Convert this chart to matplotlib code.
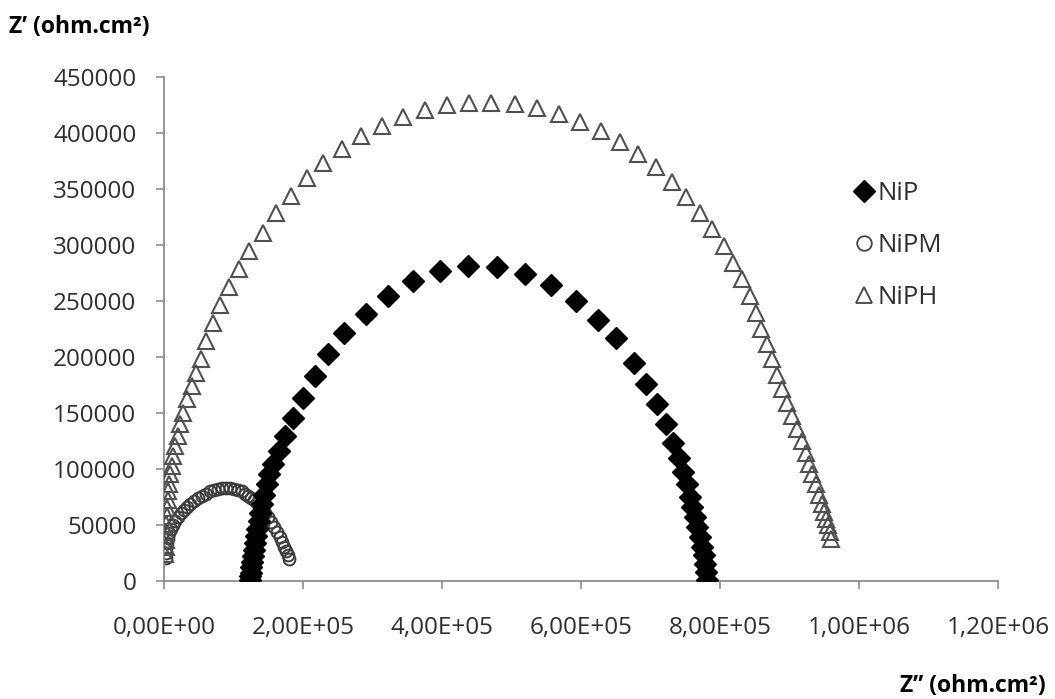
import matplotlib
matplotlib.use("Agg")
import matplotlib.pyplot as plt
from matplotlib.ticker import FuncFormatter, MultipleLocator
from matplotlib.lines import Line2D

plt.rcParams['font.family'] = ['Open Sans', 'DejaVu Sans']

# NiP (filled diamonds)
nip_x = [123300, 123300, 124700, 124700, 126200, 127600, 129000, 130500, 131900, 133300,
         136200, 137600, 140500, 143400, 147700, 150500, 156300, 164900, 173500, 184900,
         199300, 217900, 236600, 259500, 291000, 322600, 358400, 397100, 437300, 478900,
         519000, 556300, 592100, 623700, 650900, 676700, 693900, 709700, 722600, 732600,
         741200, 747000, 752700, 757000, 759900, 764200, 767000, 771300, 774200, 777100,
         778500, 779900, 781400]
nip_y = [900, 4500, 7200, 12500, 17000, 22400, 27800, 34100, 40300, 46600,
         53800, 61000, 69000, 77100, 86100, 95000, 104000, 115600, 129100, 145200,
         163100, 182900, 202600, 221400, 238400, 254600, 268000, 277000, 281500, 280600,
         274300, 264400, 250100, 233100, 216900, 194500, 175700, 157800, 139800, 122800,
         109400, 96800, 86100, 75300, 66300, 57400, 48400, 39400, 30500, 23300,
         15200, 8100, 900]

# NiPM (open circles)
nipm_x = [2900, 2900, 2900, 4300, 5700, 7200, 10000, 12900, 15800, 20100,
          24400, 28700, 33000, 37300, 43000, 48700, 54500, 60200, 65900, 71700,
          77400, 83200, 88900, 94600, 100400, 106100, 111800, 116100, 120400, 124700,
          129000, 133300, 137600, 141900, 144800, 149100, 153400, 157700, 162000, 166300,
          169200, 172000, 174900, 177800, 179200]
nipm_y = [20600, 25100, 29600, 34100, 38500, 43000, 46600, 50200, 53800, 57400,
          61000, 63600, 66300, 69000, 71700, 74400, 76200, 78000, 79800, 80700,
          81600, 82500, 82500, 82500, 81600, 80700, 79800, 78000, 76200, 74400,
          72600, 69900, 67200, 64500, 61000, 57400, 52900, 48400, 43900, 39400,
          35000, 30500, 26900, 23300, 19700]

# NiPH (open triangles)
niph_x = [1400, 2900, 2900, 2900, 2900, 4300, 4300, 5700, 5700, 7200,
          8600, 11500, 12900, 15800, 20100, 22900, 27200, 33000, 40100, 45900,
          53000, 60200, 70300, 80300, 93200, 107500, 121900, 141900, 160600, 182100,
          205000, 229400, 256600, 283900, 314000, 344100, 375600, 407200, 438700, 470300,
          504700, 536200, 567800, 597900, 628000, 656600, 682400, 708200, 731200, 751300,
          771300, 788500, 805700, 818700, 831500, 843000, 851600, 858800, 867400, 874600,
          881700, 888900, 896100, 903200, 910400, 917600, 923300, 927600, 931900, 937600,
          941900, 946200, 949100, 951900, 954800, 957700, 959100]
niph_y = [24200, 30500, 36800, 43900, 51100, 58300, 65400, 72600, 79800, 86900,
          95000, 102200, 111100, 120100, 129100, 139800, 149700, 162200, 173900, 185500,
          198100, 214200, 230400, 246500, 262600, 278800, 294900, 311000, 328100, 343300,
          359400, 372900, 385500, 397100, 406000, 414100, 420400, 424900, 426700, 426700,
          425800, 422200, 416800, 409700, 401600, 391700, 381000, 369300, 355900, 342400,
          328100, 314600, 299400, 284200, 269800, 254600, 239300, 225000, 211500, 198100,
          183800, 171200, 158700, 147000, 135400, 124600, 113800, 104000, 95000, 86100,
          77100, 69000, 61900, 55600, 50200, 43900, 37600]

fig = plt.figure(figsize=(10.55, 6.99), dpi=100)
ax = fig.add_axes([0.1555, 0.169, 0.7905, 0.721])

ax.plot(nipm_x, nipm_y, 'o', ms=8.5, mfc='none', mec='#3c3c3c', mew=1.4, zorder=2)
ax.plot(niph_x, niph_y, '^', ms=11.5, mfc='none', mec='#505050', mew=1.5, zorder=3)
ax.plot(nip_x, nip_y, 'D', ms=11, mfc='black', mec='black', zorder=4)

ax.set_xlim(0, 1.2e6)
ax.set_ylim(0, 450000)
ax.xaxis.set_major_locator(MultipleLocator(2e5))
ax.yaxis.set_major_locator(MultipleLocator(50000))
ax.xaxis.set_major_formatter(FuncFormatter(lambda v, p: f"{v:.2E}".replace('.', ',')))
ax.yaxis.set_major_formatter(FuncFormatter(lambda v, p: f"{int(v)}"))

for s in ['top', 'right']:
    ax.spines[s].set_visible(False)
for s in ['left', 'bottom']:
    ax.spines[s].set_color('#8c8c8c')
    ax.spines[s].set_linewidth(1.3)
ax.tick_params(axis='both', direction='out', length=6, width=1.2, color='#8c8c8c',
               labelsize=17.5, labelcolor='#2e2e2e')
ax.tick_params(axis='x', pad=19)
ax.tick_params(axis='y', pad=14)

handles = [
    Line2D([], [], ls='none', marker='D', ms=11, mfc='black', mec='black'),
    Line2D([], [], ls='none', marker='o', ms=10.5, mfc='none', mec='#444444', mew=1.3),
    Line2D([], [], ls='none', marker='^', ms=11.5, mfc='none', mec='#444444', mew=1.3),
]
ax.legend(handles, ['NiP', 'NiPM', 'NiPH'], loc='upper left',
          bbox_to_anchor=(0.799, 0.84), frameon=False, fontsize=18.5,
          handlelength=0.8, handletextpad=0.15, labelspacing=1.06,
          labelcolor='#2e2e2e')

fig.text(0.009, 0.962, 'Z\u2019 (ohm.cm\u00b2)', fontsize=16.5, fontweight='bold',
         ha='left', va='center', color='black')
fig.text(0.991, 0.019, 'Z\u201d (ohm.cm\u00b2)', fontsize=16.5, fontweight='bold',
         ha='right', va='center', color='black')

fig.savefig('out.png', dpi=100)
